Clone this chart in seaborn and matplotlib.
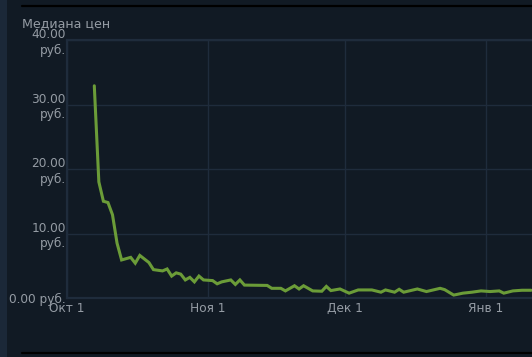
import matplotlib
matplotlib.use("Agg")
import matplotlib.pyplot as plt
import seaborn as sns
import pandas as pd
from matplotlib.lines import Line2D
from matplotlib.patches import Rectangle

# ---- data ----
day_offsets = [6, 7, 8, 9, 10, 11, 12, 14, 15, 16, 18, 19, 21, 22, 23, 24, 25, 26, 27, 28,
               29, 30, 32, 33, 34, 36, 37, 38, 39, 44, 45, 47, 48, 50, 51, 52, 54, 56, 57, 58,
               60, 62, 64, 67, 69, 70, 72, 73, 74, 77, 79, 82, 83, 85, 87, 89, 91, 93, 95, 96,
               98, 100, 102]
prices = [32.9, 18.0, 15.0, 14.8, 12.9, 8.5, 5.9, 6.3, 5.4, 6.6, 5.5, 4.4, 4.2, 4.5, 3.4, 3.9, 3.7, 2.8, 3.2, 2.5,
          3.4, 2.8, 2.7, 2.2, 2.5, 2.8, 2.1, 2.8, 2.0, 1.95, 1.5, 1.5, 1.1, 1.9, 1.4, 1.9, 1.1, 1.05, 1.8, 1.15,
          1.4, 0.75, 1.25, 1.25, 0.9, 1.25, 0.9, 1.35, 0.9, 1.4, 1.0, 1.5, 1.3, 0.45, 0.75, 0.9, 1.1, 1.0, 1.1, 0.75,
          1.1, 1.2, 1.2]
start_date = "2023-10-01"
month_ticks = ["2023-10-01", "2023-11-01", "2023-12-01", "2024-01-01"]
month_labels = ["Окт 1", "Ноя 1", "Дек 1", "Янв 1"]
y_ticks = [0, 10, 20, 30, 40]
y_labels = ["0.00 руб.", "10.00\nруб.", "20.00\nруб.", "30.00\nруб.", "40.00\nруб."]
title = "Медиана цен"

dates = pd.Timestamp(start_date) + pd.to_timedelta(day_offsets, unit="D")
df = pd.DataFrame({"date": dates, "price": prices})

# ---- style ----
BG = "#111a24"
STRIP = "#1b2838"
GRID = "#1f2c3c"
TEXT = "#959ca4"
LINE = "#6b9c38"

sns.set_theme(style="dark")
plt.rcParams["font.family"] = ["DejaVu Sans"]

W, H = 532, 357
fig = plt.figure(figsize=(W / 100, H / 100), dpi=100, facecolor=BG)
ax = fig.add_axes([67 / W, (H - 298) / H, (W - 67) / W, (298 - 40) / H])
ax.set_facecolor(BG)

sns.lineplot(data=df, x="date", y="price", ax=ax, color=LINE, linewidth=2.2,
             solid_joinstyle="miter")

ax.set_xlim(pd.Timestamp(start_date), pd.Timestamp(start_date) + pd.Timedelta(days=102.2))
ax.set_ylim(0, 40)

ax.set_xticks(pd.to_datetime(month_ticks))
ax.set_xticklabels(month_labels)
ax.set_yticks(y_ticks)
ax.set_yticklabels(y_labels)
ax.tick_params(axis="both", length=0, colors=TEXT, labelsize=8.7)
ax.tick_params(axis="y", pad=1)
ax.tick_params(axis="x", pad=3)
ax.set_xlabel("")
ax.set_ylabel("")

ax.grid(True, color=GRID, linewidth=1.0)
for side in ["left", "top", "bottom"]:
    ax.spines[side].set_visible(True)
    ax.spines[side].set_color(GRID)
    ax.spines[side].set_linewidth(1.6)
ax.spines["right"].set_visible(False)

# decorations
fig.patches.append(Rectangle((0, 0), 7 / W, 1, transform=fig.transFigure,
                             facecolor=STRIP, edgecolor="none", zorder=0))
fig.add_artist(Line2D([22 / W, 1], [1 - 5.5 / H, 1 - 5.5 / H], color="#000000", linewidth=1.6))
fig.add_artist(Line2D([22 / W, 1], [1 - 353 / H, 1 - 353 / H], color="#000000", linewidth=1.6))

fig.text(22 / W, 1 - 27.5 / H, title, color=TEXT, fontsize=9.1, va="baseline", ha="left")

fig.savefig("out.png", dpi=100, facecolor=BG)
